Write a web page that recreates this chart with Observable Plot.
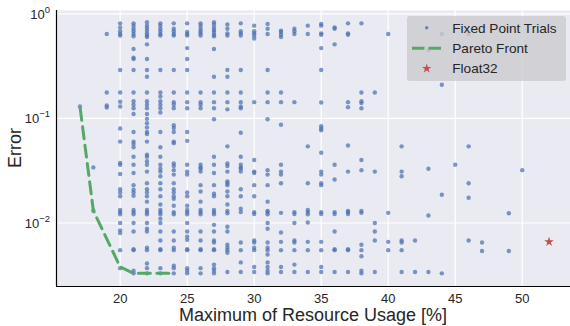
<!DOCTYPE html>
<html><head><meta charset="utf-8">
<script src="https://cdn.jsdelivr.net/npm/d3@7"></script>
<script src="https://cdn.jsdelivr.net/npm/@observablehq/plot@0.6"></script>
<style>
html,body{margin:0;padding:0;background:#fff;overflow:hidden;}
</style>
</head><body><div id="chart"></div>
<script>
// ---- data ----
const usages = [17,18,19,20,21,22,23,24,25,26,27,28,29,30,31,32,33,34,35,36,37,38,39,40,41,42,43,44,45,46,47,49,50];
const err17 = [0.13];
const err18 = [0.034, 0.0131];
const err19 = [0.64, 0.177, 0.133, 0.127];
const err20 = [0.81, 0.74, 0.68, 0.64, 0.62, 0.29, 0.177, 0.144, 0.13, 0.080, 0.060, 0.0375, 0.036, 0.0294, 0.021, 0.0196, 0.018, 0.0133, 0.0127, 0.0121, 0.0100, 0.0085, 0.0080, 0.0055, 0.0037];
const err21 = [0.81, 0.77, 0.72, 0.68, 0.64, 0.61, 0.46, 0.38, 0.37, 0.29, 0.177, 0.146, 0.135, 0.125, 0.11, 0.074, 0.060, 0.057, 0.053, 0.043, 0.036, 0.030, 0.023, 0.0208, 0.0196, 0.0182, 0.0133, 0.0127, 0.0121, 0.0100, 0.0083, 0.0056, 0.0055, 0.0035, 0.0033];
const err22 = [0.83, 0.77, 0.73, 0.69, 0.65, 0.62, 0.60, 0.51, 0.37, 0.29, 0.25, 0.177, 0.146, 0.135, 0.125, 0.11, 0.099, 0.090, 0.082, 0.074, 0.071, 0.060, 0.045, 0.043, 0.039, 0.036, 0.031, 0.024, 0.021, 0.0196, 0.018, 0.016, 0.0133, 0.0127, 0.0121, 0.0100, 0.0088, 0.0083, 0.0058, 0.0055, 0.0041, 0.0037, 0.0033];
const err23 = [0.81, 0.77, 0.72, 0.68, 0.64, 0.62, 0.29, 0.177, 0.162, 0.146, 0.135, 0.125, 0.114, 0.074, 0.053, 0.043, 0.036, 0.033, 0.031, 0.028, 0.024, 0.021, 0.018, 0.015, 0.0133, 0.0127, 0.0121, 0.011, 0.0100, 0.0083, 0.0068, 0.0056, 0.0055, 0.0037, 0.0033];
const err24 = [0.81, 0.72, 0.68, 0.64, 0.62, 0.29, 0.177, 0.143, 0.135, 0.125, 0.086, 0.081, 0.074, 0.060, 0.058, 0.037, 0.035, 0.032, 0.029, 0.024, 0.021, 0.0196, 0.018, 0.017, 0.0146, 0.0127, 0.0121, 0.0083, 0.0068, 0.0058, 0.0055, 0.0039, 0.0037, 0.0033];
const err25 = [0.81, 0.67, 0.64, 0.62, 0.47, 0.37, 0.29, 0.177, 0.143, 0.125, 0.074, 0.061, 0.036, 0.031, 0.029, 0.0196, 0.018, 0.0146, 0.0133, 0.0127, 0.0121, 0.0100, 0.0083, 0.0074, 0.0069, 0.0056, 0.0055, 0.0037, 0.0035, 0.0033];
const err26 = [0.81, 0.77, 0.72, 0.68, 0.65, 0.62, 0.177, 0.143, 0.135, 0.125, 0.036, 0.034, 0.033, 0.031, 0.023, 0.020, 0.016, 0.0133, 0.0127, 0.0121, 0.0083, 0.0068, 0.0056, 0.0055, 0.0037, 0.0033];
const err27 = [0.83, 0.79, 0.74, 0.70, 0.67, 0.63, 0.61, 0.46, 0.25, 0.177, 0.143, 0.125, 0.098, 0.043, 0.036, 0.030, 0.023, 0.019, 0.018, 0.0133, 0.0127, 0.0121, 0.0096, 0.0083, 0.0068, 0.0065, 0.0056, 0.0055, 0.0040, 0.0037, 0.0035, 0.0033];
const err28 = [0.79, 0.72, 0.65, 0.62, 0.29, 0.25, 0.177, 0.143, 0.122, 0.054, 0.037, 0.035, 0.031, 0.025, 0.024, 0.023, 0.020, 0.018, 0.015, 0.013, 0.0124, 0.0092, 0.0083, 0.0062, 0.0058, 0.0055, 0.0052, 0.0034];
const err29 = [0.81, 0.68, 0.65, 0.62, 0.29, 0.177, 0.143, 0.130, 0.125, 0.073, 0.043, 0.036, 0.034, 0.033, 0.031, 0.021, 0.018, 0.0137, 0.0127, 0.0065, 0.0055, 0.0042, 0.0034];
const err30 = [0.77, 0.68, 0.65, 0.62, 0.58, 0.143, 0.040, 0.031, 0.030, 0.023, 0.018, 0.0127, 0.0122, 0.0068, 0.0065, 0.0058, 0.0055, 0.0038, 0.0034];
const err31 = [0.80, 0.72, 0.64, 0.29, 0.177, 0.143, 0.098, 0.032, 0.029, 0.023, 0.016, 0.013, 0.0127, 0.0121, 0.0100, 0.0088, 0.0065, 0.0058, 0.0055, 0.0050, 0.0042, 0.0038, 0.0035, 0.0033];
const err32 = [0.69, 0.67, 0.63, 0.60, 0.177, 0.143, 0.087, 0.036, 0.031, 0.029, 0.024, 0.0125, 0.0081, 0.0066, 0.0055, 0.0038, 0.0034];
const err33 = [0.72, 0.68, 0.64, 0.143, 0.0127, 0.0122, 0.0100, 0.0068, 0.0065, 0.0055, 0.0040, 0.0034];
const err34 = [0.77, 0.64, 0.054, 0.024, 0.0133, 0.0127, 0.0121, 0.0101, 0.0066, 0.0055, 0.0034];
const err35 = [0.80, 0.77, 0.65, 0.63, 0.47, 0.29, 0.142, 0.084, 0.080, 0.077, 0.047, 0.031, 0.029, 0.024, 0.023, 0.0127, 0.0122, 0.0066, 0.0055, 0.0038, 0.0034];
const err36 = [0.74, 0.72, 0.51, 0.036, 0.026, 0.0127, 0.0122, 0.0083, 0.0056, 0.0055, 0.0034];
const err37 = [0.81, 0.65, 0.63, 0.143, 0.128, 0.055, 0.031, 0.013, 0.0127, 0.0122, 0.0056, 0.0055, 0.0034];
const err38 = [0.81, 0.177, 0.146, 0.140, 0.125, 0.040, 0.032, 0.013, 0.0125, 0.0062, 0.0055, 0.0048, 0.0035, 0.0033];
const err39 = [0.177, 0.031, 0.0100, 0.0083, 0.0068, 0.0034];
const err40 = [0.64, 0.0125, 0.0066, 0.0055];
const err41 = [0.054, 0.031, 0.028, 0.0068, 0.0065, 0.0055, 0.0034];
const err42 = [0.0068, 0.0034];
const err43 = [0.45, 0.033, 0.0118, 0.0034];
const err44 = [0.64, 0.21, 0.0186, 0.0033];
const err45 = [0.036];
const err46 = [0.64, 0.054, 0.024, 0.0174, 0.0068];
const err47 = [0.0065, 0.0054];
const err49 = [0.0124, 0.0054];
const err50 = [0.032];
const trialErrors = [err17,err18,err19,err20,err21,err22,err23,err24,err25,err26,err27,err28,err29,err30,err31,err32,err33,err34,err35,err36,err37,err38,err39,err40,err41,err42,err43,err44,err45,err46,err47,err49,err50];

const paretoUsage = [17, 18, 20, 21, 24];
const paretoError = [0.13, 0.0131, 0.0038, 0.0033, 0.0033];

const float32Usage = [52];
const float32Error = [0.0066];

const xTicks = [20, 25, 30, 35, 40, 45, 50];
const yTicks = [1, 0.1, 0.01];
const yTickExp = ["0", "\u22121", "\u22122"];
const legendLabels = ["Fixed Point Trials", "Pareto Front", "Float32"];
const xLabel = "Maximum of Resource Usage [%]";
const yLabel = "Error";

// ---- build ----
const trials = usages.flatMap((u, i) => trialErrors[i].map(e => ({usage: u, error: e})));
const pareto = paretoUsage.map((u, i) => ({usage: u, error: paretoError[i]}));
const f32 = float32Usage.map((u, i) => ({usage: u, error: float32Error[i]}));

const xDomain = [15.25, 53.6];
const yDomain = [0.00247, 1.075];
const BLUE = "#4C72B0", GREEN = "#55A868", RED = "#C44E52";
const FONT = "'Liberation Sans', Arial, sans-serif";

const fig = Plot.plot({
  width: 570, height: 326,
  marginLeft: 56, marginRight: 0, marginTop: 10, marginBottom: 40,
  style: {fontFamily: FONT, fontSize: "13px", color: "#262626", background: "transparent", overflow: "visible"},
  x: {domain: xDomain, ticks: xTicks, tickSize: 0, tickPadding: 7, label: null, tickFormat: d => String(d)},
  y: {type: "log", domain: yDomain, axis: null},
  marks: [
    Plot.frame({fill: "#EAEAF2", stroke: null}),
    Plot.ruleX(xTicks, {stroke: "#ffffff", strokeWidth: 1.2}),
    Plot.ruleY(yTicks, {stroke: "#ffffff", strokeWidth: 1.2}),
    Plot.dot(trials, {x: "usage", y: "error", r: 2.2, fill: BLUE, fillOpacity: 0.72, stroke: null}),
    Plot.line(pareto, {x: "usage", y: "error", stroke: GREEN, strokeWidth: 3, strokeDasharray: "12,6.5", strokeDashoffset: -2}),
    Plot.dot(f32, {x: "usage", y: "error", symbol: "star", r: 3, fill: RED, stroke: null}),
    Plot.ruleX([xDomain[0]], {stroke: "#000", strokeWidth: 1.2}),
    Plot.ruleY([yDomain[0]], {stroke: "#000", strokeWidth: 1.2})
  ]
});
document.getElementById("chart").appendChild(fig);

const svg = d3.select(fig);
const ys = fig.scale("y");
const xs = fig.scale("x");

// y tick labels with superscripts
yTicks.forEach((v, i) => {
  const t = svg.append("text")
    .attr("x", 50).attr("y", ys.apply(v) + 5.5)
    .attr("text-anchor", "end")
    .attr("font-family", FONT).attr("font-size", 13).attr("fill", "#262626");
  t.append("tspan").text("10");
  t.append("tspan").attr("dy", -6).attr("font-size", 9.5).text(yTickExp[i]);
});

// axis labels
svg.append("text")
  .attr("x", (xs.apply(xDomain[0]) + xs.apply(xDomain[1])) / 2).attr("y", 321)
  .attr("text-anchor", "middle").attr("font-family", FONT).attr("font-size", 18).attr("fill", "#262626")
  .text(xLabel);
svg.append("text")
  .attr("transform", `translate(20.5,${(ys.apply(yDomain[0]) + ys.apply(yDomain[1])) / 2}) rotate(-90)`)
  .attr("text-anchor", "middle").attr("font-family", FONT).attr("font-size", 18).attr("fill", "#262626")
  .text(yLabel);

// legend
const lg = svg.append("g");
lg.append("rect").attr("x", 407).attr("y", 16).attr("width", 159).attr("height", 65).attr("rx", 3)
  .attr("fill", "#cccccf").attr("fill-opacity", 0.82);
lg.append("circle").attr("cx", 426.7).attr("cy", 27.7).attr("r", 1.7).attr("fill", BLUE).attr("fill-opacity", 0.8);
lg.append("line").attr("x1", 412).attr("x2", 441).attr("y1", 48.3).attr("y2", 48.3)
  .attr("stroke", GREEN).attr("stroke-width", 3).attr("stroke-dasharray", "12.5,4");
lg.append("path").attr("d", d3.symbol(d3.symbolStar, Math.PI * 9)())
  .attr("transform", "translate(426.7,68.5)").attr("fill", RED);
legendLabels.forEach((s, i) => {
  lg.append("text").attr("x", 452.3).attr("y", 27.7 + i * 20.3 + 4.8)
    .attr("text-anchor", "start")
    .attr("font-family", FONT).attr("font-size", 13.6).attr("fill", "#262626").text(s);
});
</script>
</body></html>
